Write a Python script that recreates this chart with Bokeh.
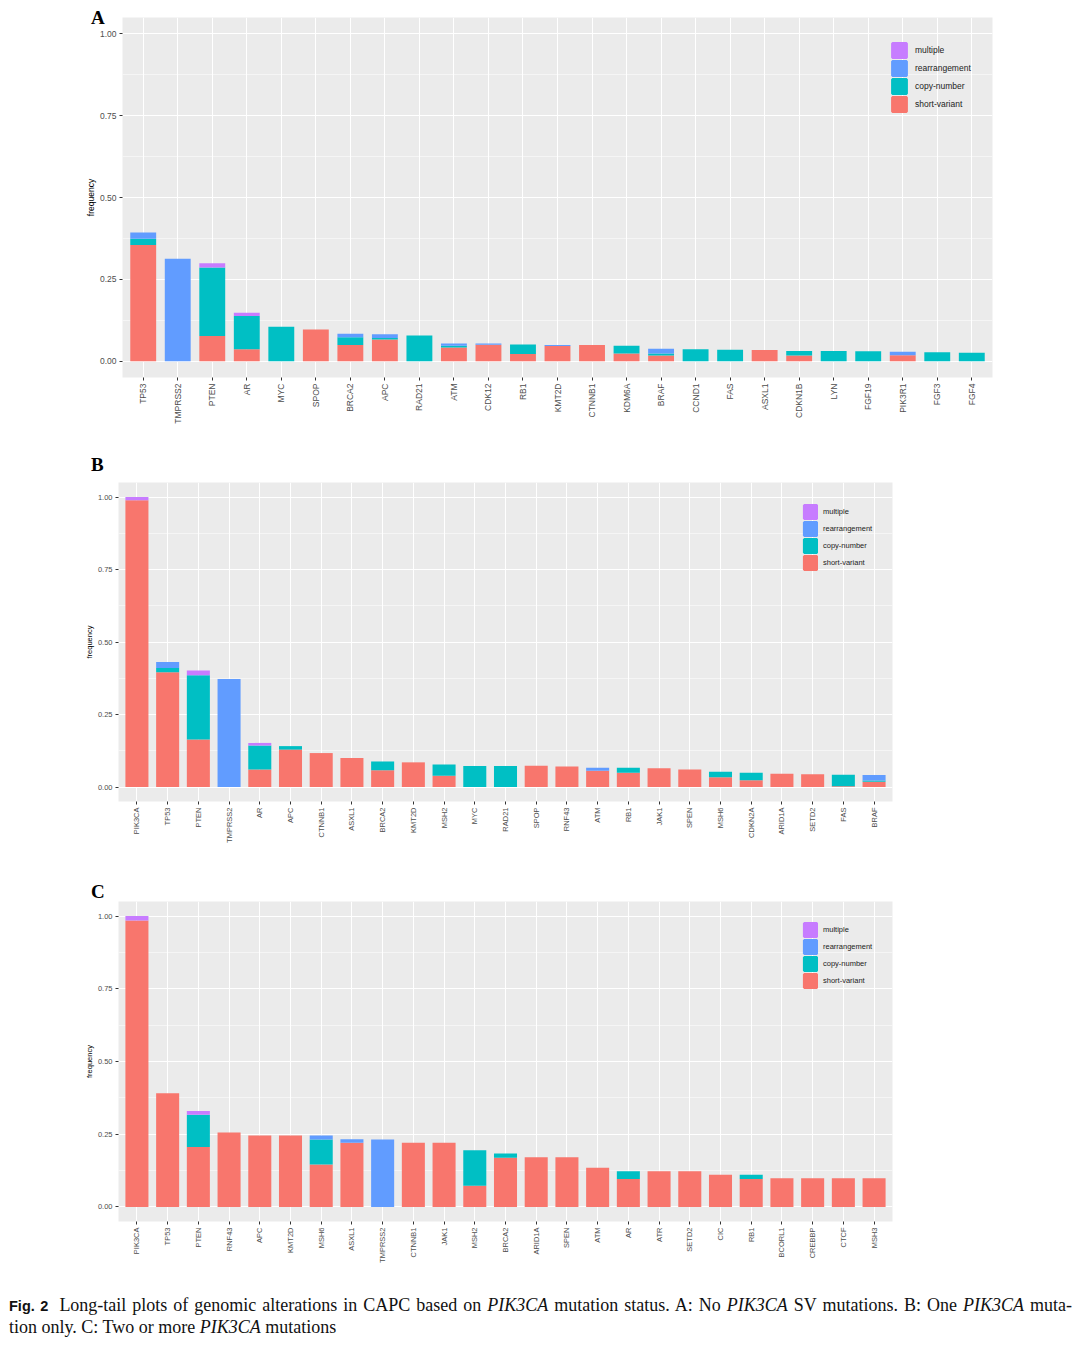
import math
from bokeh.plotting import figure
from bokeh.models import (ColumnDataSource, Range1d, FixedTicker, CustomJSTickFormatter,
                          NumeralTickFormatter, Legend, LegendItem, Div)
from bokeh.layouts import column
from bokeh.embed import file_html
from bokeh.resources import INLINE

# ---------------- data ----------------
series_names = ["short-variant", "copy-number", "rearrangement", "multiple"]
series_colors = ["#F8766D", "#00BFC4", "#619CFF", "#C77CFF"]

genes_a = ["TP53", "TMPRSS2", "PTEN", "AR", "MYC", "SPOP", "BRCA2", "APC", "RAD21", "ATM",
           "CDK12", "RB1", "KMT2D", "CTNNB1", "KDM6A", "BRAF", "CCND1", "FAS", "ASXL1",
           "CDKN1B", "LYN", "FGF19", "PIK3R1", "FGF3", "FGF4"]
sv_a = [0.355, 0, 0.077, 0.036, 0, 0.097, 0.049, 0.066, 0, 0.042,
        0.050, 0.022, 0.046, 0.049, 0.023, 0.017, 0, 0, 0.034,
        0.017, 0, 0, 0.018, 0, 0]
cn_a = [0.019, 0, 0.209, 0.102, 0.105, 0, 0.024, 0.005, 0.078, 0.005,
        0, 0.029, 0, 0, 0.024, 0.006, 0.036, 0.035, 0,
        0.014, 0.031, 0.030, 0, 0.027, 0.026]
re_a = [0.019, 0.313, 0, 0, 0, 0, 0.011, 0.011, 0, 0.007,
        0.004, 0, 0.003, 0, 0, 0.015, 0, 0, 0,
        0, 0, 0, 0.011, 0, 0]
mu_a = [0, 0, 0.013, 0.010, 0, 0, 0, 0, 0, 0,
        0, 0, 0, 0, 0, 0, 0, 0, 0,
        0, 0, 0, 0, 0, 0]

genes_b = ["PIK3CA", "TP53", "PTEN", "TMPRSS2", "AR", "APC", "CTNNB1", "ASXL1", "BRCA2",
           "KMT2D", "MSH2", "MYC", "RAD21", "SPOP", "RNF43", "ATM", "RB1", "JAK1", "SPEN",
           "MSH6", "CDKN2A", "ARID1A", "SETD2", "FAS", "BRAF"]
sv_b = [0.989, 0.396, 0.164, 0, 0.060, 0.129, 0.117, 0.100, 0.058,
        0.085, 0.039, 0, 0, 0.073, 0.071, 0.056, 0.049, 0.065, 0.060,
        0.034, 0.023, 0.046, 0.044, 0.003, 0.018]
cn_b = [0, 0.014, 0.221, 0, 0.083, 0.012, 0, 0, 0.030,
        0, 0.039, 0.072, 0.072, 0, 0, 0, 0.017, 0, 0,
        0.019, 0.026, 0, 0, 0.039, 0.004]
re_b = [0, 0.021, 0, 0.372, 0, 0, 0, 0, 0,
        0, 0, 0, 0, 0, 0, 0.010, 0, 0, 0,
        0, 0, 0, 0, 0, 0.019]
mu_b = [0.011, 0, 0.017, 0, 0.009, 0, 0, 0, 0,
        0, 0, 0, 0, 0, 0, 0, 0, 0, 0,
        0, 0, 0, 0, 0, 0]

genes_c = ["PIK3CA", "TP53", "PTEN", "RNF43", "APC", "KMT2D", "MSH6", "ASXL1", "TMPRSS2",
           "CTNNB1", "JAK1", "MSH2", "BRCA2", "ARID1A", "SPEN", "ATM", "AR", "ATR", "SETD2",
           "CIC", "RB1", "BCORL1", "CREBBP", "CTCF", "MSH3"]
sv_c = [0.985, 0.391, 0.206, 0.256, 0.246, 0.246, 0.146, 0.221, 0,
        0.221, 0.221, 0.073, 0.169, 0.171, 0.171, 0.135, 0.096, 0.123, 0.123,
        0.111, 0.096, 0.099, 0.099, 0.099, 0.099]
cn_c = [0, 0, 0.111, 0, 0, 0, 0.086, 0, 0,
        0, 0, 0.122, 0.015, 0, 0, 0, 0.027, 0, 0,
        0, 0.015, 0, 0, 0, 0]
re_c = [0, 0, 0, 0, 0, 0, 0.014, 0.012, 0.232,
        0, 0, 0, 0, 0, 0, 0, 0, 0, 0,
        0, 0, 0, 0, 0, 0]
mu_c = [0.015, 0, 0.013, 0, 0, 0, 0, 0, 0,
        0, 0, 0, 0, 0, 0, 0, 0, 0, 0,
        0, 0, 0, 0, 0, 0]

y_ticks = [0.0, 0.25, 0.5, 0.75, 1.0]
y_minor = [0.125, 0.375, 0.625, 0.875]

FONT = "Liberation Sans"
W = 1072


def panel(genes, sv, cn, re_, mu, geo, fs):
    n = len(genes)
    height = geo["top"] + geo["fh"] + geo["bottom"]
    p = figure(width=W, height=height, output_backend="svg", toolbar_location=None,
               x_range=Range1d(-0.6, n - 0.4), y_range=Range1d(-0.05, 1.05),
               min_border_left=geo["left"], min_border_right=geo["right"],
               min_border_top=geo["top"], min_border_bottom=geo["bottom"])
    p.background_fill_color = "#EBEBEB"
    p.border_fill_alpha = 0
    p.outline_line_color = None

    cols = ["sv", "cn", "re", "mu"]
    src = ColumnDataSource(dict(x=list(range(n)), gene=genes, sv=sv, cn=cn, re=re_, mu=mu))
    p.vbar_stack(cols, x="x", width=0.75, source=src, color=series_colors, line_color=None)

    # legend keys: hidden renderers, used only to draw the legend swatches
    keys = []
    for col, c in zip(cols, series_colors):
        r = p.vbar(x="x", top=col, width=0.75, source=src,
                   fill_color=c, line_color=c, line_width=2.4)
        r.visible = False
        keys.append(r)

    xt = FixedTicker(ticks=list(range(n)), minor_ticks=[])
    yt = FixedTicker(ticks=y_ticks, minor_ticks=y_minor)
    p.xaxis.ticker = xt
    p.yaxis.ticker = yt
    p.xgrid.ticker = xt
    p.ygrid.ticker = yt
    p.xaxis.formatter = CustomJSTickFormatter(args=dict(labels=genes),
                                              code="return labels[Math.round(tick)] || ''")
    p.yaxis.formatter = NumeralTickFormatter(format="0.00")
    p.xaxis.major_label_orientation = math.pi / 2

    p.xgrid.grid_line_color = "white"
    p.xgrid.grid_line_width = 1
    p.ygrid.grid_line_color = "white"
    p.ygrid.grid_line_width = 1.1
    p.ygrid.minor_grid_line_color = "white"
    p.ygrid.minor_grid_line_width = 0.5

    for ax in (p.xaxis[0], p.yaxis[0]):
        ax.axis_line_color = None
        ax.major_tick_line_color = "#333333"
        ax.major_tick_in = 0
        ax.major_tick_out = 3
        ax.minor_tick_line_color = None
        ax.major_label_text_color = "#4D4D4D"
        ax.major_label_text_font = FONT
    p.xaxis.major_label_text_font_size = fs["x"]
    p.yaxis.major_label_text_font_size = fs["y"]
    p.xaxis.major_label_standoff = 3
    p.yaxis.major_label_standoff = 2
    p.yaxis.axis_label = "frequency"
    p.yaxis.axis_label_text_font = FONT
    p.yaxis.axis_label_text_font_style = "normal"
    p.yaxis.axis_label_text_font_size = fs["title"]
    p.yaxis.axis_label_text_color = "#000000"
    p.yaxis.axis_label_standoff = 1

    items = [LegendItem(label=series_names[i], renderers=[keys[i]]) for i in (3, 2, 1, 0)]
    lg = Legend(items=items, location=geo["leg"], padding=0, margin=0,
                border_line_color=None, background_fill_alpha=0,
                glyph_width=geo["gw"], glyph_height=geo["gh"], label_height=geo["gh"],
                spacing=0, label_standoff=geo["ls"],
                label_text_font=FONT, label_text_font_size=fs["leg"],
                label_text_color="#222222")
    p.add_layout(lg)
    return p


def letter_div(letter, h, shift):
    return Div(
        text=('<div style="font-family:\'Liberation Serif\',serif;font-weight:bold;'
              'font-size:19px;line-height:%dpx;padding-left:91px;position:relative;'
              'top:%dpx;color:#000;">%s</div>' % (h, shift, letter)),
        width=W, height=h, margin=(0, 0, 0, 0))


pa = panel(genes_a, sv_a, cn_a, re_a, mu_a,
           dict(left=122, right=80, top=0, fh=360, bottom=75, leg=(768, 264),
                gw=18, gh=18, ls=7),
           dict(x="8.5px", y="8.5px", title="8.5px", leg="8.5px"))
pb = panel(genes_b, sv_b, cn_b, re_b, mu_b,
           dict(left=118, right=180, top=4, fh=319, bottom=76, leg=(684, 230),
                gw=16, gh=17, ls=5),
           dict(x="7.5px", y="7.5px", title="7.5px", leg="7.5px"))
pc = panel(genes_c, sv_c, cn_c, re_c, mu_c,
           dict(left=118, right=180, top=1, fh=320, bottom=64, leg=(684, 232),
                gw=16, gh=17, ls=5),
           dict(x="7.5px", y="7.5px", title="7.5px", leg="7.5px"))

caption = Div(
    text=(
        '<div style="font-family:\'Liberation Serif\',serif;font-size:18px;line-height:21px;'
        'color:#111;padding:10px 0 0 9px;width:1063px;">'
        '<div style="width:1063px;text-align:justify;text-align-last:justify;">'
        '<span style="font-family:\'Liberation Sans\',sans-serif;font-weight:bold;font-size:14.5px;'
        'margin-right:11px;">Fig.&nbsp;2</span>'
        'Long-tail plots of genomic alterations in CAPC based on <i>PIK3CA</i> mutation status. '
        'A: No <i>PIK3CA</i> SV mutations. B: One <i>PIK3CA</i> muta-</div>'
        '<div>tion only. C: Two or more <i>PIK3CA</i> mutations</div></div>'
    ),
    width=W, height=55, margin=(0, 0, 0, 0))

layout = column(column(letter_div("A", 17, 9), pa),
                column(letter_div("B", 26, 0), pb),
                column(letter_div("C", 23, 3), pc),
                caption, spacing=0)

with open("out.html", "w") as f:
    f.write(file_html(layout, INLINE))
